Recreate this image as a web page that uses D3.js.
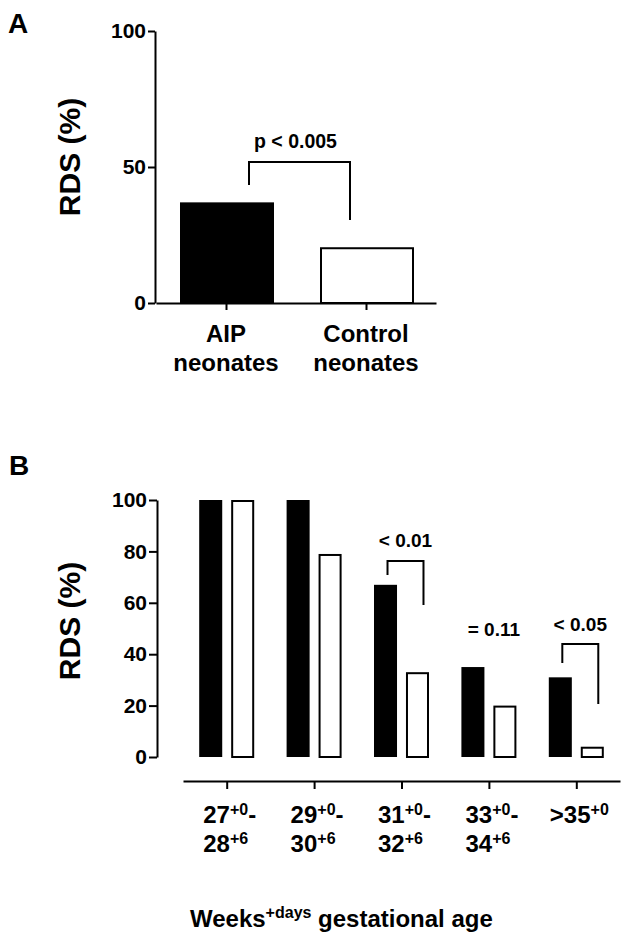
<!DOCTYPE html>
<html>
<head>
<meta charset="utf-8">
<script src="https://cdn.jsdelivr.net/npm/d3@7"></script>
<style>
body { margin: 0; background: #fff; }
text { font-family: "Liberation Sans", Arial, sans-serif; font-weight: bold; fill: #000; }
</style>
</head>
<body>
<svg id="chart" width="625" height="942"></svg>
<script>
// ---- panel A data
const groupsA = ["AIP neonates", "Control neonates"];
const labelA1 = ["AIP", "Control"];
const labelA2 = ["neonates", "neonates"];
const valuesA = [37, 20.5];
const ticksA = [0, 50, 100];
// bracket heights in % units
const bracketA = {label: "p < 0.005", top: 51.8, left: 43.4, right: 30.5, text: 57};

// ---- panel B data
const series = ["AIP", "Control"];
const weeksFrom = ["27", "29", "31", "33", ">35"];
const weeksTo = ["28", "30", "32", "34", ""];
const aipB = [100, 100, 67, 35, 31];
const controlB = [100, 79, 33, 20, 4];
const ticksB = [0, 20, 40, 60, 80, 100];
const pB = [
	{g: 2, label: "< 0.01", bracket: true, top: 76.3, left: 70.8, right: 59.1, text: 81.7},
	{g: 3, label: "= 0.11", bracket: false, text: 47},
	{g: 4, label: "< 0.05", bracket: true, top: 44, left: 36.6, right: 20.6, text: 49}
];

const svg = d3.select("#chart");

function styleAxis(g, fontSize) {
	g.selectAll("path, line").attr("stroke", "#000").attr("stroke-width", 2);
	g.selectAll("text").style("font-size", fontSize + "px").attr("fill", "#000");
}

// ================= Panel A
svg.append("text").attr("x", 8).attr("y", 33).style("font-size", "28px").text("A");

let yA = d3.scaleLinear().domain([0, 100]).range([303, 31]);
let xA = d3.scalePoint().domain(groupsA).range([156, 436]).padding(0.5);

svg.append("g")
	.attr("transform", "translate(155,0)")
	.call(d3.axisLeft(yA).tickValues(ticksA).tickSize(7).tickSizeOuter(0).tickPadding(2))
	.call(g => styleAxis(g, 21));

svg.append("g")
	.attr("transform", "translate(0,303)")
	.call(d3.axisBottom(xA).tickSize(7).tickSizeOuter(0).tickFormat(""))
	.call(g => styleAxis(g, 21));

svg.selectAll(".barA")
	.data(valuesA)
	.join("rect")
	.attr("class", "barA")
	.attr("x", (d, i) => xA(groupsA[i]) - 46 + (i == 1 ? 1 : 0))
	.attr("width", (d, i) => i == 1 ? 92 : 94)
	.attr("y", (d, i) => yA(d) + (i == 1 ? 1 : 0))
	.attr("height", (d, i) => yA(0) - yA(d) - (i == 1 ? 1 : 0))
	.attr("fill", (d, i) => i == 0 ? "#000" : "#fff")
	.attr("stroke", "#000")
	.attr("stroke-width", (d, i) => i == 0 ? 0 : 2);

svg.selectAll(".labA1")
	.data(labelA1)
	.join("text")
	.attr("x", (d, i) => xA(groupsA[i]))
	.attr("y", 342)
	.attr("text-anchor", "middle")
	.style("font-size", "24px")
	.text(d => d);

svg.selectAll(".labA2")
	.data(labelA2)
	.join("text")
	.attr("x", (d, i) => xA(groupsA[i]))
	.attr("y", 371)
	.attr("text-anchor", "middle")
	.style("font-size", "24px")
	.text(d => d);

svg.append("text")
	.attr("transform", "translate(80,157) rotate(-90)")
	.attr("text-anchor", "middle")
	.style("font-size", "30px")
	.text("RDS (%)");

let bx1 = xA(groupsA[0]) + 23, bx2 = xA(groupsA[1]) - 16;
svg.append("path")
	.attr("d", `M${bx1},${yA(bracketA.left)}V${yA(bracketA.top)}H${bx2}V${yA(bracketA.right)}`)
	.attr("fill", "none")
	.attr("stroke", "#000")
	.attr("stroke-width", 2);

svg.append("text")
	.attr("x", (bx1 + bx2) / 2 - 4)
	.attr("y", yA(bracketA.text))
	.attr("text-anchor", "middle")
	.style("font-size", "19.5px")
	.text(bracketA.label);

// ================= Panel B
svg.append("text").attr("x", 9).attr("y", 475).style("font-size", "28px").text("B");

let yB = d3.scaleLinear().domain([0, 100]).range([757, 500]);
let xB = d3.scalePoint().domain(weeksFrom).range([183, 620]).padding(0.5);
let xSub = d3.scaleBand().domain(series).range([-27.5, 27.5]).paddingInner(0.28);

svg.append("g")
	.attr("transform", "translate(157,0)")
	.call(d3.axisLeft(yB).tickValues(ticksB).tickSize(8).tickSizeOuter(0).tickPadding(2))
	.call(g => styleAxis(g, 21));

svg.append("g")
	.attr("transform", "translate(0,781)")
	.call(d3.axisBottom(xB).tickSize(8).tickSizeOuter(0).tickFormat(""))
	.call(g => styleAxis(g, 21));

let barData = [];
weeksFrom.forEach((w, i) => {
	barData.push({g: w, s: "AIP", v: aipB[i]});
	barData.push({g: w, s: "Control", v: controlB[i]});
});

svg.selectAll(".barB")
	.data(barData)
	.join("rect")
	.attr("class", "barB")
	.attr("x", d => xB(d.g) + xSub(d.s) + (d.s == "Control" ? 1 : 0))
	.attr("width", d => xSub.bandwidth() - (d.s == "Control" ? 2 : 0))
	.attr("y", d => yB(d.v) + (d.s == "Control" ? 1 : 0))
	.attr("height", d => yB(0) - yB(d.v) - (d.s == "Control" ? 1 : 0))
	.attr("fill", d => d.s == "AIP" ? "#000" : "#fff")
	.attr("stroke", "#000")
	.attr("stroke-width", d => d.s == "AIP" ? 0 : 2);

// p-value brackets
pB.forEach(p => {
	let g = weeksFrom[p.g];
	let c1 = xB(g) + xSub("AIP") + xSub.bandwidth() / 2 + 2;
	let c2 = xB(g) + xSub("Control") + xSub.bandwidth() / 2 + 6;
	if (p.bracket) {
		svg.append("path")
			.attr("d", `M${c1},${yB(p.left)}V${yB(p.top)}H${c2}V${yB(p.right)}`)
			.attr("fill", "none")
			.attr("stroke", "#000")
			.attr("stroke-width", 2);
	}
	svg.append("text")
		.attr("x", p.bracket ? (c1 + c2) / 2 : xB(g) + 5)
		.attr("y", yB(p.text))
		.attr("text-anchor", "middle")
		.style("font-size", "19px")
		.text(p.label);
});

// tick labels with superscripts
weeksFrom.forEach((w, i) => {
	let cx = xB(w) + 3;
	let t1 = svg.append("text").attr("y", 823).style("font-size", "24px");
	t1.append("tspan").text(w);
	t1.append("tspan").attr("dy", -8).style("font-size", "16px").text("+0");
	if (weeksTo[i] != "") {
		t1.append("tspan").attr("dy", 8).text("-");
	}
	let wdt = t1.node().getComputedTextLength();
	let left = cx - wdt / 2;
	t1.attr("x", left);

	if (weeksTo[i] != "") {
		let t2 = svg.append("text").attr("x", left).attr("y", 852).style("font-size", "24px");
		t2.append("tspan").text(weeksTo[i]);
		t2.append("tspan").attr("dy", -8).style("font-size", "16px").text("+6");
	}
});

let xt = svg.append("text").attr("x", 190).attr("y", 927).style("font-size", "24px");
xt.append("tspan").text("Weeks");
xt.append("tspan").attr("dy", -9).style("font-size", "16px").text("+days");
xt.append("tspan").attr("dy", 9).text(" gestational age");

svg.append("text")
	.attr("transform", "translate(80,621) rotate(-90)")
	.attr("text-anchor", "middle")
	.style("font-size", "30px")
	.text("RDS (%)");
</script>
</body>
</html>
